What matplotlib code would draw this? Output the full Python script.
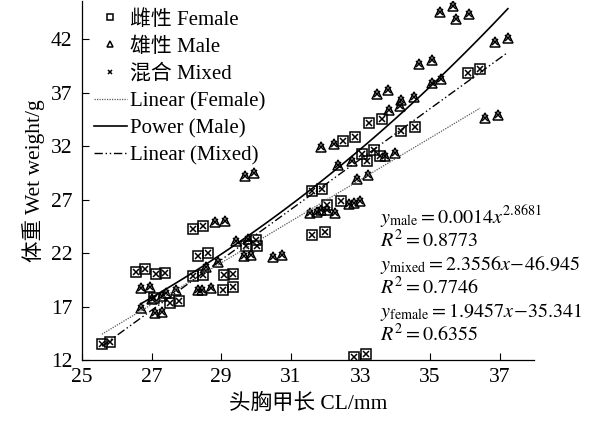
import numpy as np
import matplotlib
matplotlib.use("Agg")
import matplotlib.pyplot as plt

plt.rcParams['font.family'] = ['Liberation Serif', 'Noto Sans CJK SC']
plt.rcParams['mathtext.fontset'] = 'stix'

# female (squares)
female_cl = [25.57, 25.81, 26.55, 26.81, 27.13, 27.39, 27.07, 27.52, 27.79,
             28.18, 28.47, 29.05, 29.34, 28.34, 28.63, 29.07, 29.34, 28.18, 28.47,
             29.70, 30.01, 30.03, 31.61, 31.90, 31.61, 31.97, 32.04, 32.45,
             32.81, 33.15, 33.25, 33.61, 34.17, 34.57, 32.51, 32.84,
             33.06, 33.20, 33.39, 33.56, 36.10, 36.44]
female_w = [13.50, 13.66, 20.22, 20.53, 20.03, 20.18, 17.78, 17.37, 17.53,
            19.81, 19.97, 18.56, 18.78, 21.75, 22.00, 19.97, 20.06, 24.28, 24.50,
            22.62, 23.18, 22.62, 27.77, 28.00, 23.65, 23.93, 26.53, 26.84,
            12.31, 12.56, 34.18, 34.56, 33.46, 33.84, 32.53, 32.87,
            31.28, 30.65, 31.62, 31.05, 38.87, 39.18]

# male (triangles)
male_cl = [26.68, 26.95, 26.68, 27.10, 27.31, 27.29, 27.42, 27.71, 27.02,
           28.34, 28.44, 28.71, 28.55, 28.90, 28.83, 29.12, 29.68, 29.94,
           29.43, 29.77, 29.65, 29.85, 30.48, 30.76,
           31.56, 31.75, 31.88, 32.04, 32.26, 32.67, 32.81, 32.99,
           31.88, 32.24, 32.36, 32.75, 32.91, 33.23, 33.71, 34.00,
           33.47, 33.80, 34.17, 34.54, 33.81, 34.14, 34.68, 35.06,
           35.07, 35.31, 35.28, 35.65, 35.76, 36.13, 36.86, 37.24,
           36.58, 36.97]
male_w = [18.72, 18.87, 16.90, 16.43, 16.53, 17.94, 18.31, 18.56, 17.69,
          18.56, 18.56, 18.72, 20.74, 21.12, 24.87, 25.03, 29.24, 29.50,
          23.09, 23.31, 21.68, 21.84, 21.62, 21.84,
          25.75, 25.84, 26.00, 26.00, 25.75, 26.62, 26.69, 26.84,
          31.90, 32.24, 30.28, 30.59, 28.94, 29.27, 31.05, 31.37,
          36.90, 37.30, 36.30, 36.58, 35.43, 35.74, 39.65, 40.02,
          37.93, 38.33, 44.59, 45.12, 43.93, 44.37, 41.74, 42.15,
          34.65, 34.96]

# trend line coefficients
male_a, male_b = 0.0014, 2.8681
mixed_k, mixed_c = 2.3556, -46.945
female_k, female_c = 1.9457, -35.341

mixed_cl = female_cl + male_cl
mixed_w = female_w + male_w

fig = plt.figure(figsize=(5.95, 4.21), dpi=100)
ax = fig.add_axes([0.138, 0.145, 0.76, 0.853])

ax.plot(female_cl, female_w, 's', ms=7, mfc='none', mec='black', mew=1.1, label='雌性 Female')
ax.plot(male_cl, male_w, '^', ms=7.5, mfc='none', mec='black', mew=1.1, label='雄性 Male')
ax.plot(mixed_cl, mixed_w, 'x', ms=5, color='black', mew=1.1, label='混合 Mixed')

xf = np.linspace(min(female_cl), max(female_cl), 50)
ax.plot(xf, female_k * xf + female_c, color='0.35', lw=0.9, ls=(0, (1, 1)), label='Linear (Female)')
xm = np.linspace(min(male_cl), max(male_cl), 100)
ax.plot(xm, male_a * xm ** male_b, color='black', lw=1.2, label='Power (Male)')
xx = np.linspace(min(mixed_cl), max(mixed_cl), 50)
ax.plot(xx, mixed_k * xx + mixed_c, color='black', lw=1.0, ls=(0, (6, 2, 1, 2, 1, 2)), label='Linear (Mixed)')

ax.set_xlim(25, 38)
ax.set_ylim(12, 45.6)
ax.set_xticks([25, 27, 29, 31, 33, 35, 37])
ax.set_yticks([12, 17, 22, 27, 32, 37, 42])
ax.tick_params(direction='in', labelsize=15.5, length=5, width=0.8)
ax.tick_params(axis='y', pad=7)
ax.tick_params(axis='x', pad=6)
for s in ['top', 'right']:
    ax.spines[s].set_visible(False)
ax.spines['left'].set_linewidth(0.9)
ax.spines['bottom'].set_linewidth(0.9)

ax.set_xlabel('头胸甲长 CL/mm', fontsize=15.5, labelpad=5)
ax.set_ylabel('体重 Wet weight/g', fontsize=15.5, labelpad=4)

leg = ax.legend(loc='upper left', bbox_to_anchor=(0.027, 0.975), frameon=False, fontsize=15,
                handlelength=1.55, handletextpad=0.15, labelspacing=0.36, borderaxespad=0.0,
                borderpad=0.0, markerscale=0.55)

eq = [r'$y_{\mathrm{male}} = 0.0014x^{2.8681}$',
      r'$R^2 = 0.8773$',
      r'$y_{\mathrm{mixed}} = 2.3556x\!-\!46.945$',
      r'$R^2 = 0.7746$',
      r'$y_{\mathrm{female}} = 1.9457x\!-\!35.341$',
      r'$R^2 = 0.6355$']
for i, t in enumerate(eq):
    ax.text(33.55, 25.3 - i * 2.2, t, fontsize=14.5, va='center', ha='left')

fig.savefig('out.png', dpi=100)
